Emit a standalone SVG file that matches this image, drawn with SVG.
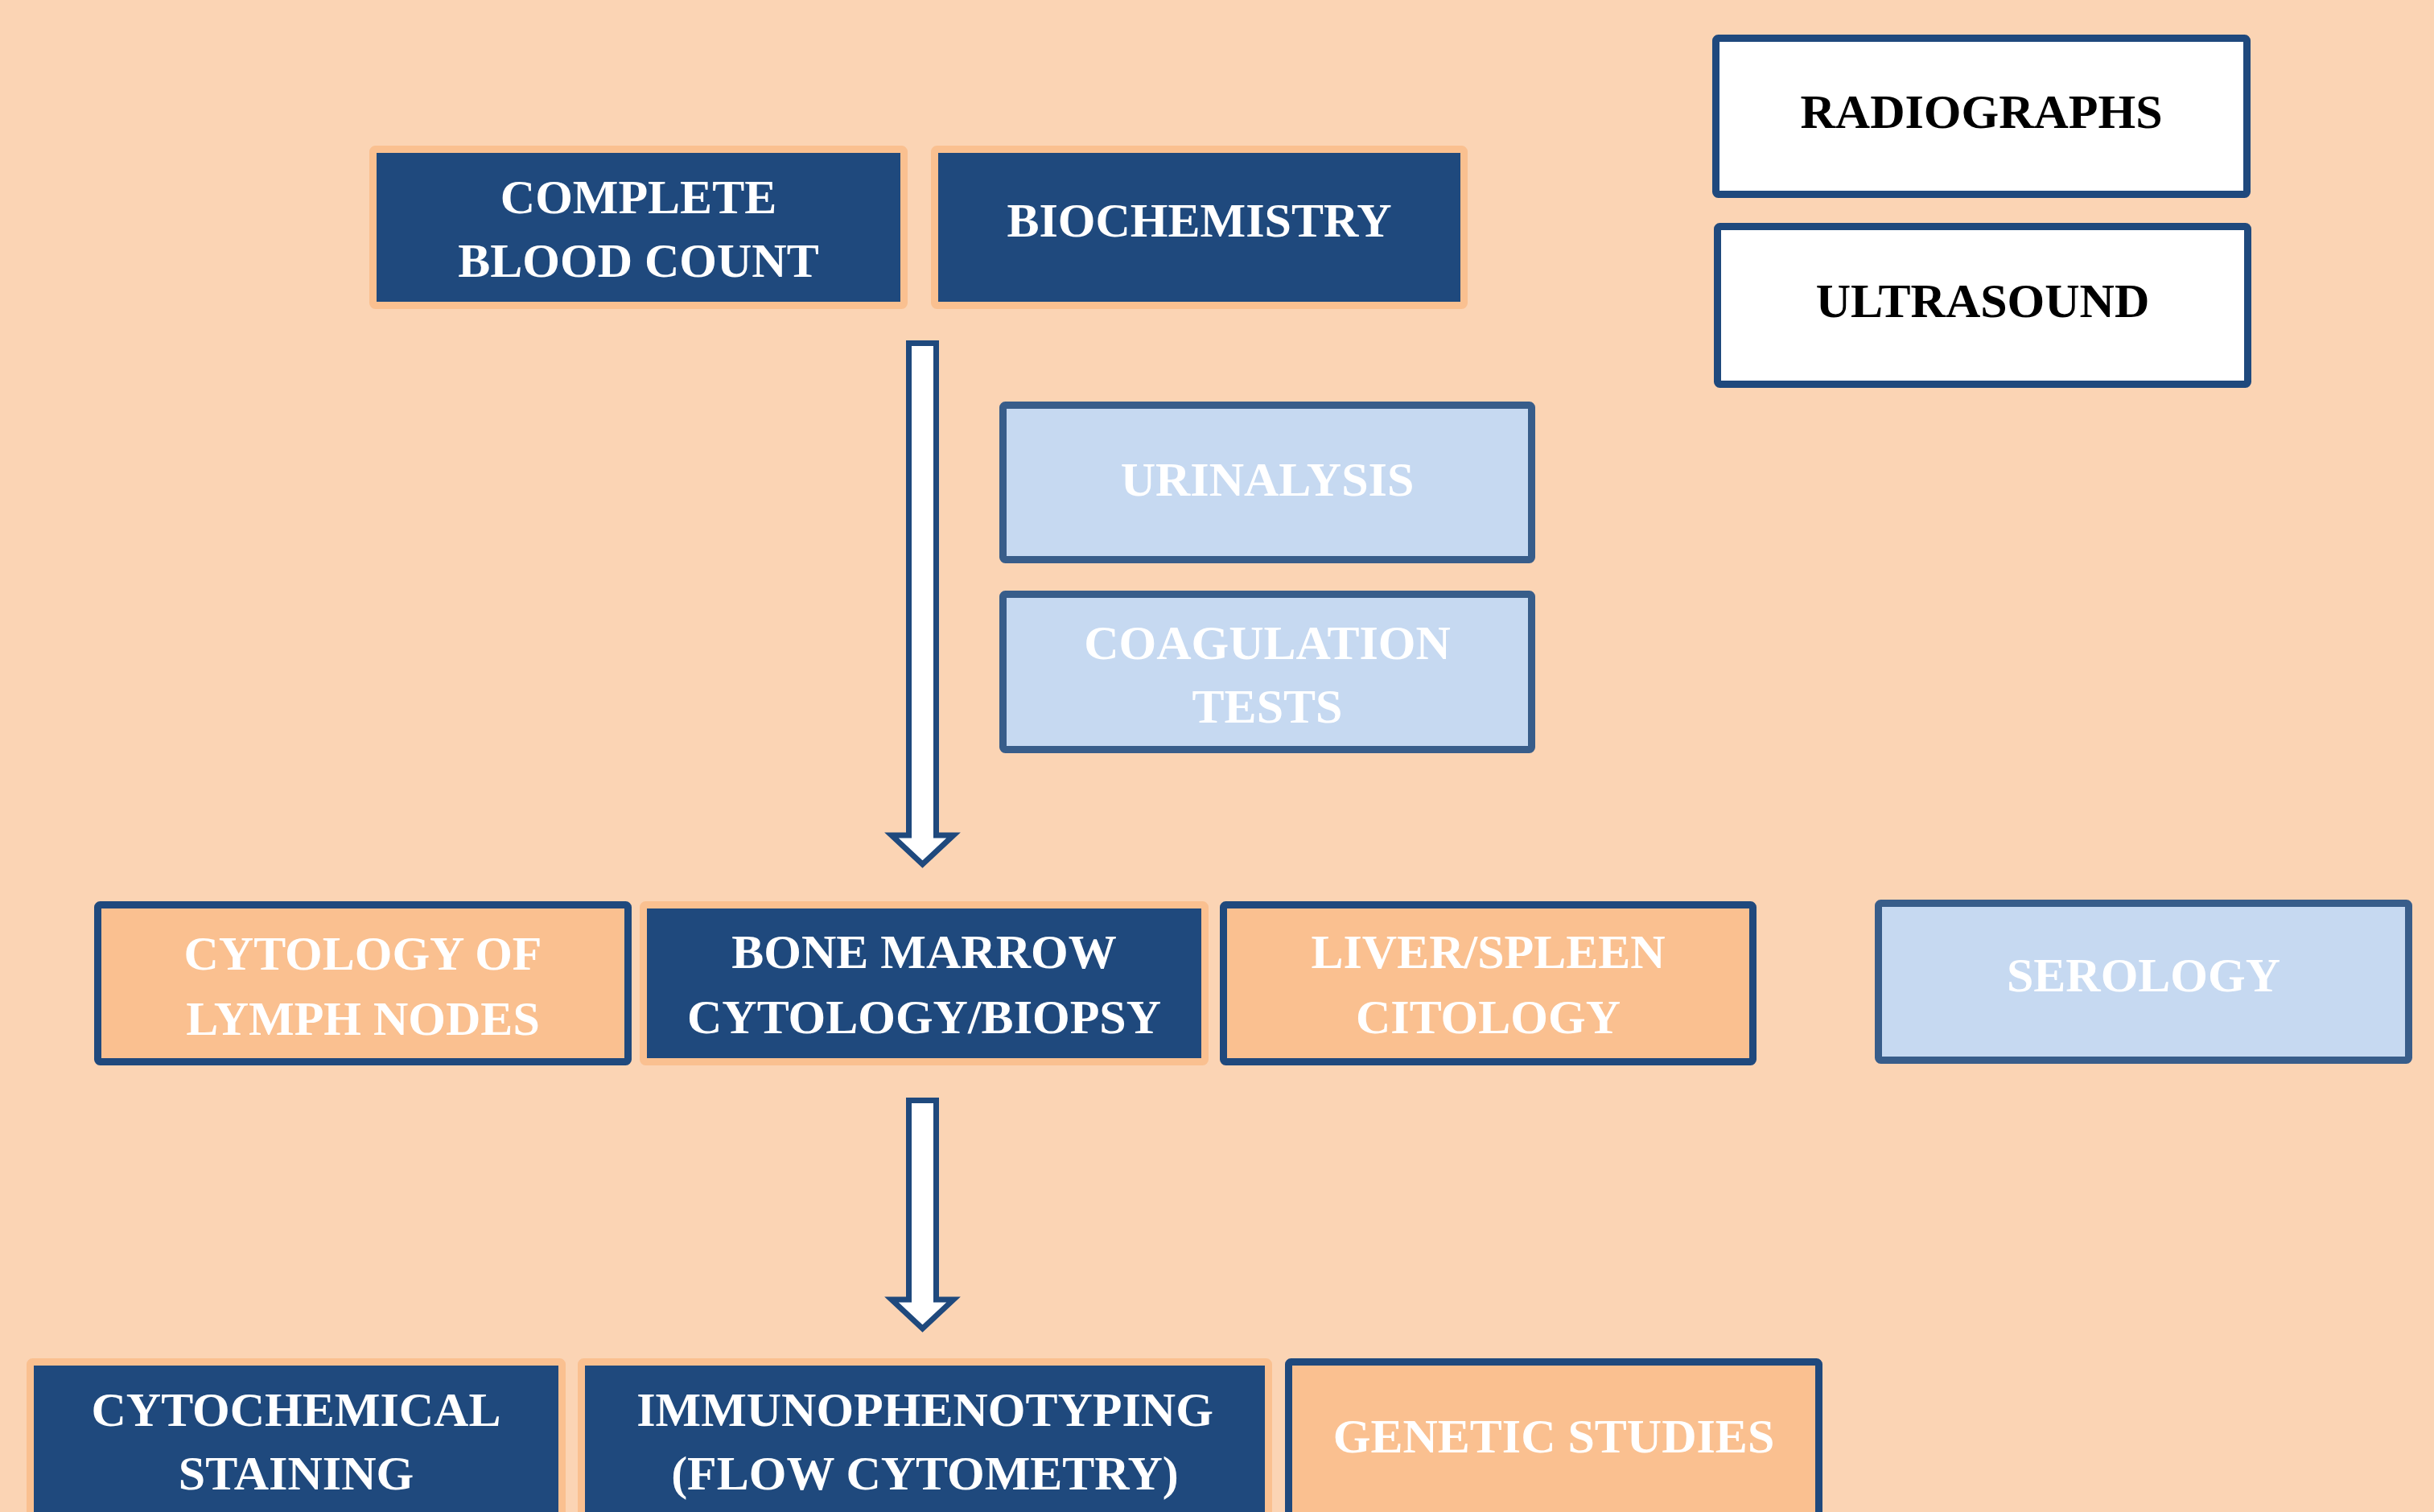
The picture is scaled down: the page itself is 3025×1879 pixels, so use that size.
<svg xmlns="http://www.w3.org/2000/svg" width="3025" height="1879" viewBox="0 0 3025 1879">
<style>
.bg{fill:#FBD4B4}
.dk{fill:#1F497D;stroke:#FAC090;stroke-width:9}
.or{fill:#FAC090;stroke:#1F497D;stroke-width:9}
.lb{fill:#C6D9F1;stroke:#385D8A;stroke-width:9}
.wh{fill:#FFFFFF;stroke:#1F497D;stroke-width:9}
text{font-family:"Liberation Serif","Times New Roman",serif;font-weight:bold;font-size:60px;text-anchor:middle;fill:#FFFFFF}
text.blk{fill:#000000}
.arrow{fill:#FFFFFF;stroke:#1F497D;stroke-width:7;stroke-linejoin:miter}
</style>
<rect class="bg" x="0" y="0" width="3025" height="1879"/>
<g id="connectors">
<polygon class="arrow" points="1129.5,426.5 1163.5,426.5 1163.5,1038 1185,1038 1146.5,1074 1108,1038 1129.5,1038"/>
<polygon class="arrow" points="1129.5,1367.5 1163.5,1367.5 1163.5,1615 1185,1615 1146.5,1651 1108,1615 1129.5,1615"/>
</g>
<g id="cbc"><rect class="dk" x="463.5" y="185.5" width="660" height="194" rx="3"/><text x="793.5" y="265">COMPLETE</text><text x="793.5" y="344">BLOOD COUNT</text></g>
<g id="biochemistry"><rect class="dk" x="1161.5" y="185.5" width="658" height="194" rx="3"/><text x="1490.5" y="294">BIOCHEMISTRY</text></g>
<g id="radiographs"><rect class="wh" x="2132.5" y="47.5" width="660" height="194" rx="3"/><text class="blk" x="2462.5" y="159">RADIOGRAPHS</text></g>
<g id="ultrasound"><rect class="wh" x="2134.5" y="281.5" width="659" height="196" rx="3"/><text class="blk" x="2464" y="394">ULTRASOUND</text></g>
<g id="urinalysis"><rect class="lb" x="1246.5" y="503.5" width="657" height="192" rx="3"/><text x="1575" y="616">URINALYSIS</text></g>
<g id="coagulation"><rect class="lb" x="1246.5" y="738.5" width="657" height="193" rx="3"/><text x="1575" y="819">COAGULATION</text><text x="1575" y="898">TESTS</text></g>
<g id="lymph"><rect class="or" x="121.5" y="1124.5" width="659" height="195" rx="3"/><text x="451" y="1205">CYTOLOGY OF</text><text x="451" y="1286">LYMPH NODES</text></g>
<g id="bonemarrow"><rect class="dk" x="799.5" y="1124.5" width="698" height="195" rx="3"/><text x="1148.5" y="1203">BONE MARROW</text><text x="1148.5" y="1284">CYTOLOGY/BIOPSY</text></g>
<g id="liver"><rect class="or" x="1520.5" y="1124.5" width="658" height="195" rx="3"/><text x="1849.5" y="1203">LIVER/SPLEEN</text><text x="1849.5" y="1284">CITOLOGY</text></g>
<g id="serology"><rect class="lb" x="2334.5" y="1122.5" width="659" height="195" rx="3"/><text x="2664" y="1232">SEROLOGY</text></g>
<g id="cytochemical"><rect class="dk" x="37.5" y="1692.5" width="661" height="260" rx="3"/><text x="368" y="1772">CYTOCHEMICAL</text><text x="368" y="1851">STAINING</text></g>
<g id="immuno"><rect class="dk" x="722.5" y="1692.5" width="854" height="260" rx="3"/><text x="1149.5" y="1772">IMMUNOPHENOTYPING</text><text x="1149.5" y="1851">(FLOW CYTOMETRY)</text></g>
<g id="genetic"><rect class="or" x="1601.5" y="1692.5" width="659" height="260" rx="3"/><text x="1931" y="1805">GENETIC STUDIES</text></g>
</svg>
